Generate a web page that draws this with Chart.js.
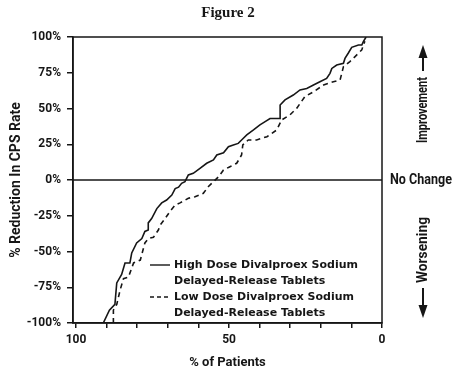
<!DOCTYPE html>
<html>
<head>
<meta charset="utf-8">
<script src="https://cdn.jsdelivr.net/npm/chart.js@4"></script>
<style>
  html, body { margin: 0; padding: 0; background: #fff; }
  #wrap { width: 456px; height: 378px; }
</style>
</head>
<body>
<div id="wrap"><canvas id="fig2"></canvas></div>
<script>
// --- data ---
const highDoseX = [91.1, 89.1, 87.3, 86.7, 85.1, 84.0, 82.4, 81.8, 80.2, 78.5, 77.5, 76.4, 76.4, 75.3, 73.6, 72.0, 70.4, 68.7, 67.6, 66.5, 65.5, 64.4, 63.3, 61.7, 59.5, 57.3, 55.1, 54.0, 51.8, 50.2, 48.6, 47.0, 45.9, 44.2, 42.0, 39.9, 38.2, 36.6, 33.3, 33.3, 31.7, 29.0, 26.8, 24.6, 22.4, 20.3, 18.1, 17.0, 16.4, 14.8, 12.6, 12.1, 11.0, 9.9, 7.7, 6.6, 6.1, 5.2];
const highDoseY = [-100, -91, -87, -72, -66, -58, -58, -51, -44, -41, -36, -35, -30, -27, -20, -16, -14, -10.5, -6, -5, -2.3, -1.2, 3.5, 4.7, 8.2, 11.7, 14, 17.5, 19, 23.3, 24.5, 25.6, 28, 31.5, 35, 38.5, 40.8, 43, 43, 52.4, 56, 59.4, 63, 64, 66.4, 68.7, 71, 74.6, 78, 80.4, 81.6, 85, 88.8, 92.8, 94.4, 94.4, 96.7, 100];
const lowDoseX = [87.8, 87.8, 86.7, 85.6, 84.5, 82.9, 81.2, 79.0, 77.5, 76.4, 74.7, 73.1, 72.5, 70.9, 69.3, 67.6, 66.0, 63.3, 61.1, 58.4, 56.8, 55.1, 53.4, 51.8, 49.7, 47.5, 45.9, 45.5, 43.7, 41.0, 37.6, 34.4, 32.8, 30.1, 27.9, 25.2, 22.4, 19.1, 15.9, 13.7, 12.6, 10.5, 8.8, 6.6, 6.1, 5.6];
const lowDoseY = [-100, -91, -87, -77, -69, -68, -58, -56, -44, -41, -40, -35, -31.5, -27, -22, -17.5, -16, -12.8, -11.7, -9.3, -4.7, -1.2, 2.3, 7, 9.3, 11.7, 17.5, 24.5, 28, 28, 30.3, 35, 42, 45.5, 50.1, 58.3, 61.7, 66.4, 68.7, 70, 79.3, 82.8, 86.3, 91, 94.4, 97];

const xTicks = [0, 10, 20, 30, 40, 50, 60, 70, 80, 90, 100];
const xTickLabels = { 0: '0', 50: '50', 100: '100' };
const yTicks = [-100, -75, -50, -25, 0, 25, 50, 75, 100];

const legendLines = [
    ['High Dose Divalproex Sodium', 'Delayed-Release Tablets'],
    ['Low Dose Divalproex Sodium', 'Delayed-Release Tablets']
];

const INK = '#161616';
const SANS = "Roboto, 'Liberation Sans', sans-serif";

const toPoints = (xs, ys) => xs.map((x, i) => ({ x: x, y: ys[i] }));

// squeezed bold text, the original uses a condensed face
function narrowText(ctx, text, x, y, width, rot) {
    ctx.save();
    ctx.font = 'bold 14px ' + SANS;
    const w = ctx.measureText(text).width;
    ctx.translate(x, y);
    if (rot) ctx.rotate(rot);
    ctx.scale(Math.min(1, width / w), 1);
    ctx.fillText(text, 0, 0);
    ctx.restore();
}

// frame, zero line, legend and side notes
const extras = {
    id: 'extras',
    afterDraw(chart) {
        const { ctx, chartArea: a, scales } = chart;
        ctx.save();
        ctx.strokeStyle = INK;
        ctx.fillStyle = INK;

        // box + no change line
        ctx.lineWidth = 1.5;
        ctx.strokeRect(a.left, a.top, a.right - a.left, a.bottom - a.top);
        const y0 = scales.y.getPixelForValue(0);
        ctx.beginPath();
        ctx.moveTo(a.left, y0);
        ctx.lineTo(a.right, y0);
        ctx.stroke();

        // legend
        const lx = a.left + 77, ly = a.top + 228;
        ctx.font = "bold 11px 'DejaVu Sans', Verdana, sans-serif";
        ctx.textBaseline = 'middle';
        ctx.textAlign = 'left';
        legendLines.forEach((lines, i) => {
            const yy = ly + i * 32;
            ctx.lineWidth = 1.4;
            ctx.setLineDash(i === 0 ? [] : [4, 3]);
            ctx.beginPath();
            ctx.moveTo(lx, yy);
            ctx.lineTo(lx + 20, yy);
            ctx.stroke();
            ctx.setLineDash([]);
            ctx.fillText(lines[0], lx + 24, yy);
            ctx.fillText(lines[1], lx + 24, yy + 16);
        });

        // right side notes
        const cx = a.right + 41;
        ctx.textAlign = 'left';
        narrowText(ctx, 'No Change', a.right + 8, y0, 62, 0);
        ctx.textAlign = 'center';
        narrowText(ctx, 'Improvement', cx, a.top + 73, 66, -Math.PI / 2);
        narrowText(ctx, 'Worsening', cx, a.top + 213, 66, -Math.PI / 2);

        const arrow = (yTip, yTail) => {
            const dir = yTip < yTail ? 1 : -1;
            ctx.lineWidth = 2;
            ctx.beginPath();
            ctx.moveTo(cx, yTail);
            ctx.lineTo(cx, yTip + dir * 10);
            ctx.stroke();
            ctx.beginPath();
            ctx.moveTo(cx, yTip);
            ctx.lineTo(cx - 4.5, yTip + dir * 13);
            ctx.lineTo(cx + 4.5, yTip + dir * 13);
            ctx.closePath();
            ctx.fill();
        };
        arrow(a.top + 8, a.top + 34);
        arrow(a.top + 281, a.top + 251);

        ctx.restore();
    }
};

new Chart(document.getElementById('fig2'), {
    type: 'scatter',
    data: {
        datasets: [
            {
                label: legendLines[0].join(' '),
                data: toPoints(highDoseX, highDoseY),
                showLine: true,
                borderColor: INK,
                borderWidth: 1.6,
                pointRadius: 0,
                tension: 0
            },
            {
                label: legendLines[1].join(' '),
                data: toPoints(lowDoseX, lowDoseY),
                showLine: true,
                borderColor: INK,
                borderWidth: 1.6,
                borderDash: [5, 4],
                pointRadius: 0,
                tension: 0
            }
        ]
    },
    options: {
        responsive: true,
        maintainAspectRatio: false,
        animation: false,
        layout: { padding: 0 },
        plugins: {
            legend: { display: false },
            tooltip: { enabled: false },
            title: {
                display: true,
                text: 'Figure 2',
                color: INK,
                font: { family: "'Liberation Serif', 'DejaVu Serif', serif", size: 15, weight: 'bold' },
                padding: { top: 4, bottom: 15 }
            }
        },
        scales: {
            x: {
                type: 'linear',
                reverse: true,
                min: 0,
                max: 101,
                afterBuildTicks: (s) => { s.ticks = xTicks.map(v => ({ value: v })); },
                afterFit: (s) => { s.height = 55; },
                grid: { drawOnChartArea: false, drawTicks: true, tickLength: 5, color: INK, lineWidth: 1.5 },
                border: { display: true, color: INK, width: 1.5 },
                ticks: {
                    color: INK,
                    padding: 5,
                    maxRotation: 0,
                    autoSkip: false,
                    font: { family: SANS, size: 12, weight: 'bold' },
                    callback: (v) => xTickLabels[v] || ''
                },
                title: {
                    display: true,
                    text: '% of Patients',
                    color: INK,
                    font: { family: SANS, size: 13, weight: 'bold' },
                    padding: { top: 0, bottom: 7 }
                }
            },
            y: {
                type: 'linear',
                min: -100,
                max: 100,
                afterBuildTicks: (s) => { s.ticks = yTicks.map(v => ({ value: v })); },
                afterFit: (s) => { s.width = 73; },
                grid: { drawOnChartArea: false, drawTicks: true, tickLength: 6, color: INK, lineWidth: 1.5 },
                border: { display: true, color: INK, width: 1.5 },
                ticks: {
                    color: INK,
                    padding: 6,
                    autoSkip: false,
                    font: { family: SANS, size: 12, weight: 'bold' },
                    callback: (v) => v + '%'
                },
                title: {
                    display: true,
                    text: '% Reduction In CPS Rate',
                    color: INK,
                    font: { family: SANS, size: 14, weight: 'bold' },
                    padding: { top: 8, bottom: 0 }
                }
            },
            // empty right gutter for the side notes
            side: {
                type: 'linear',
                position: 'right',
                min: -100,
                max: 100,
                afterFit: (s) => { s.width = 74; },
                grid: { display: false },
                border: { display: false },
                ticks: { display: false }
            }
        }
    },
    plugins: [extras]
});
</script>
</body>
</html>
